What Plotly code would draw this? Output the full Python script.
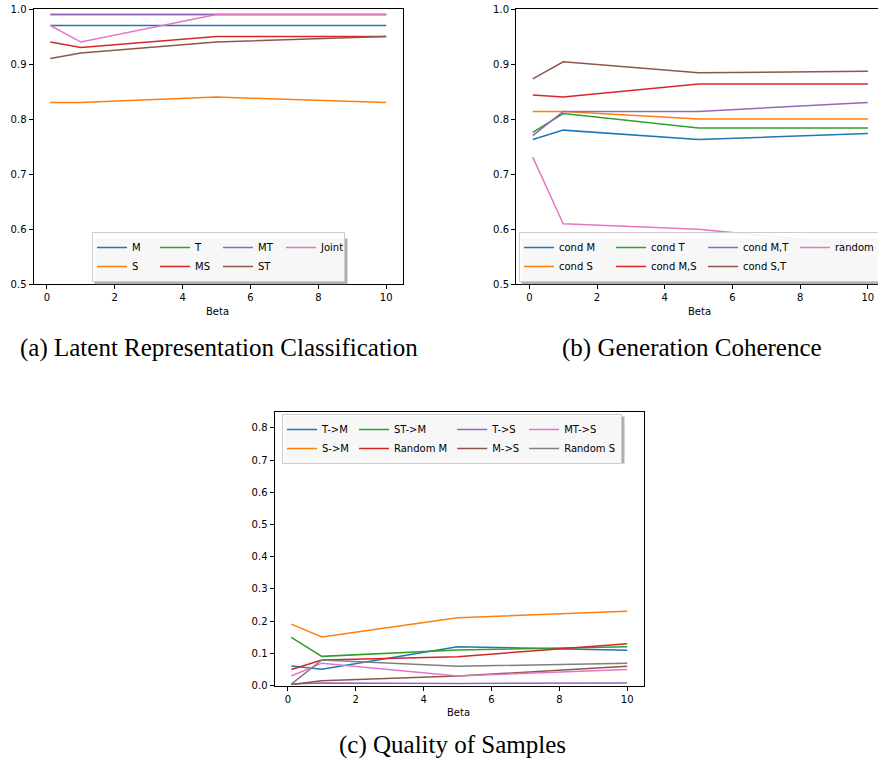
import plotly.graph_objects as go

W, H = 878, 768

beta = [0.1, 1, 5, 10]

# (a) Latent Representation Classification
a_names = ["M", "S", "T", "MS", "MT", "ST", "Joint"]
a_M = [0.97, 0.97, 0.97, 0.97]
a_S = [0.83, 0.83, 0.84, 0.83]
a_T = [0.99, 0.99, 0.99, 0.99]
a_MS = [0.94, 0.93, 0.95, 0.95]
a_MT = [0.99, 0.99, 0.99, 0.99]
a_ST = [0.91, 0.92, 0.94, 0.95]
a_Joint = [0.97, 0.94, 0.99, 0.99]
a_vals = [a_M, a_S, a_T, a_MS, a_MT, a_ST, a_Joint]

# (b) Generation Coherence
b_names = ["cond M", "cond S", "cond T", "cond M,S", "cond M,T", "cond S,T", "random"]
b_condM = [0.763, 0.780, 0.763, 0.774]
b_condS = [0.814, 0.814, 0.800, 0.800]
b_condT = [0.776, 0.810, 0.784, 0.784]
b_condMS = [0.844, 0.840, 0.864, 0.864]
b_condMT = [0.770, 0.814, 0.814, 0.830]
b_condST = [0.873, 0.904, 0.884, 0.887]
b_random = [0.731, 0.610, 0.600, 0.570]
b_vals = [b_condM, b_condS, b_condT, b_condMS, b_condMT, b_condST, b_random]

# (c) Quality of Samples
c_names = ["T->M", "S->M", "ST->M", "Random M", "T->S", "M->S", "MT->S", "Random S"]
c_TM = [0.061, 0.051, 0.121, 0.110]
c_SM = [0.191, 0.151, 0.211, 0.231]
c_STM = [0.150, 0.091, 0.111, 0.121]
c_RandM = [0.050, 0.080, 0.090, 0.130]
c_TS = [0.005, 0.008, 0.007, 0.008]
c_MS = [0.004, 0.015, 0.030, 0.060]
c_MTS = [0.030, 0.070, 0.030, 0.050]
c_RandS = [0.005, 0.080, 0.060, 0.070]
c_vals = [c_TM, c_SM, c_STM, c_RandM, c_TS, c_MS, c_MTS, c_RandS]

colors = ["#1f77b4", "#ff7f0e", "#2ca02c", "#d62728",
          "#9467bd", "#8c564b", "#e377c2", "#7f7f7f"]

FONT = "DejaVu Sans"
fig = go.Figure()

def add_panel(names, vals, xa, ya, legend, prefix):
    for i, (n, v) in enumerate(zip(names, vals)):
        fig.add_trace(go.Scatter(
            x=beta, y=v, name=n, mode="lines",
            line=dict(color=colors[i], width=1.5),
            xaxis=xa, yaxis=ya, legend=legend,
            legendgroup=f"{prefix}{i // 2}",
            hoverinfo="skip"))

add_panel(a_names, a_vals, "x", "y", "legend", "a")
add_panel(b_names, b_vals, "x2", "y2", "legend2", "b")
add_panel(c_names, c_vals, "x3", "y3", "legend3", "c")

def px(x):
    return x / W

def py(y):
    return 1 - y / H

axis_common = dict(showgrid=False, zeroline=False, showline=True,
                   linecolor="black", linewidth=1, ticks="outside",
                   ticklen=4, tickwidth=1, tickcolor="black",
                   tickfont=dict(family=FONT, size=10, color="black"))

xticks = dict(tickmode="array", tickvals=[0, 2, 4, 6, 8, 10],
              ticktext=["0", "2", "4", "6", "8", "10"])

layout = dict(
    width=W, height=H,
    margin=dict(l=0, r=0, t=0, b=0, autoexpand=False),
    paper_bgcolor="white", plot_bgcolor="white",
    showlegend=True,
    xaxis=dict(domain=[px(33.5), px(403)], range=[-0.395, 10.495], anchor="y",
               mirror=True, **xticks, **axis_common),
    yaxis=dict(domain=[py(284.3), py(9)], range=[0.5, 1.0], anchor="x",
               mirror=True, tickmode="array",
               tickvals=[0.5, 0.6, 0.7, 0.8, 0.9, 1.0],
               ticktext=["0.5", "0.6", "0.7", "0.8", "0.9", "1.0"], **axis_common),
    xaxis2=dict(domain=[px(516), 1.0], range=[-0.395, 10.30], anchor="y2",
                mirror=True, **xticks, **axis_common),
    yaxis2=dict(domain=[py(284.3), py(9)], range=[0.5, 1.0], anchor="x2",
                mirror=False, tickmode="array",
                tickvals=[0.5, 0.6, 0.7, 0.8, 0.9, 1.0],
                ticktext=["0.5", "0.6", "0.7", "0.8", "0.9", "1.0"], **axis_common),
    xaxis3=dict(domain=[px(274.5), px(644)], range=[-0.395, 10.495], anchor="y3",
                mirror=True, **xticks, **axis_common),
    yaxis3=dict(domain=[py(685.7), py(411.7)], range=[0, 0.85], anchor="x3",
                mirror=True, tickmode="array",
                tickvals=[0, 0.1, 0.2, 0.3, 0.4, 0.5, 0.6, 0.7, 0.8],
                ticktext=["0.0", "0.1", "0.2", "0.3", "0.4", "0.5", "0.6", "0.7", "0.8"],
                **axis_common),
)

leg_common = dict(orientation="h", traceorder="grouped",
                  bgcolor="rgba(255,255,255,0.9)", bordercolor="#cccccc",
                  borderwidth=1, tracegroupgap=0,
                  font=dict(family=FONT, size=10, color="black"),
                  xanchor="left", yanchor="bottom")
# legend boxes (left, top, right, bottom) in px, used for the drop shadows
LEG_A = (92, 236, 345, 282)
LEG_B = (519, 236, 900, 282)
LEG_C = (282, 414, 622, 461)
layout["legend"] = dict(x=px(LEG_A[0]), y=py(LEG_A[3]), entrywidth=18,
                        entrywidthmode="pixels", **leg_common)
layout["legend2"] = dict(x=px(LEG_B[0]), y=py(LEG_B[3]), entrywidth=47,
                         entrywidthmode="pixels", **leg_common)
layout["legend3"] = dict(x=px(LEG_C[0]), y=py(LEG_C[1]), **{**leg_common, "yanchor": "top"})

fig.update_layout(**layout)

# legend drop shadows (matplotlib shadow=True look)
for (l, t, r, b) in [LEG_A, LEG_B, LEG_C]:
    fig.add_shape(type="rect", xref="paper", yref="paper",
                  x0=px(l + 2.5), x1=px(r + 2.5), y0=py(b + 2.5), y1=py(t + 2.5),
                  fillcolor="rgba(110,110,110,0.55)", line=dict(width=0), layer="above")

# axis titles
for (cx, cy) in [(217.7, 311), (699, 311), (458, 712)]:
    fig.add_annotation(x=px(cx), y=py(cy), xref="paper", yref="paper",
                       text="Beta", showarrow=False, xanchor="center", yanchor="middle",
                       font=dict(family=FONT, size=10, color="black"))

# captions
captions = [("(a) Latent Representation Classification", 219, 348),
            ("(b) Generation Coherence", 691.5, 348),
            ("(c) Quality of Samples", 452, 745)]
for text, cx, cy in captions:
    fig.add_annotation(x=px(cx), y=py(cy), xref="paper", yref="paper",
                       text=text, showarrow=False, xanchor="center", yanchor="middle",
                       font=dict(family="Liberation Serif", size=25, color="black"))

fig.write_html("out.html", config={"displayModeBar": False},
               post_script="document.body.style.margin='0px';document.body.style.overflow='hidden';")
